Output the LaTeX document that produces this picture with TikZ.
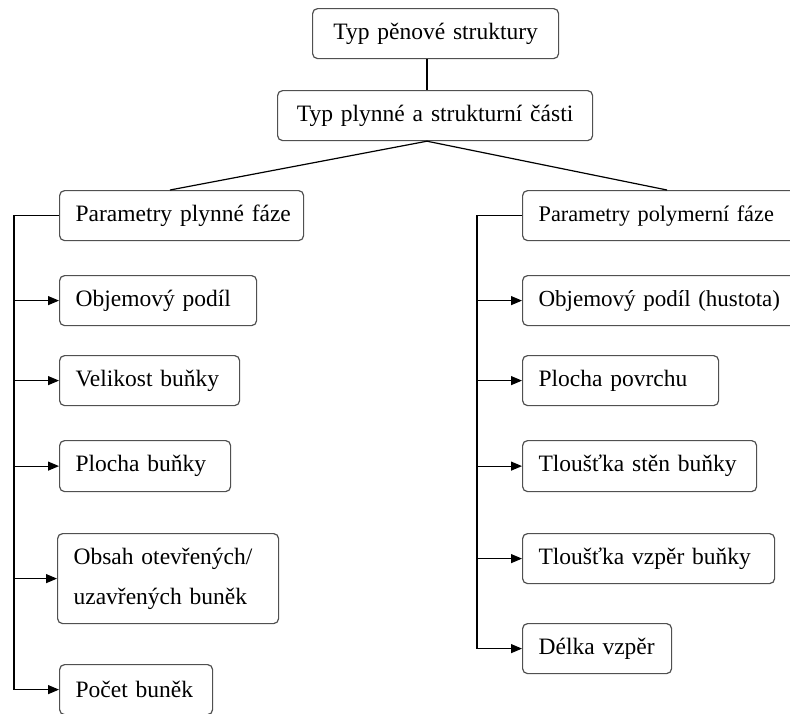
\documentclass[tikz,border=0pt]{standalone}
\usepackage{fontspec}
\setmainfont{Liberation Serif}
\usetikzlibrary{arrows.meta}
\definecolor{boxline}{HTML}{505050}
\newcommand{\onel}[1]{\mbox{#1}}
\begin{document}
\begin{tikzpicture}[x=1pt,y=-1pt,
  bx/.style={draw=boxline, rounded corners=5pt, line width=1.2pt, anchor=north west,
    inner xsep=16pt, inner ysep=0pt, align=left,
    font=\fontsize{23.5}{40}\selectfont},
  bxc/.style={bx, align=center},
  conn/.style={line width=1.2pt, black},
  arr/.style={conn, -{Triangle[length=11pt,width=9pt]}}]
\useasboundingbox (0,0) rectangle (790,713);
% top boxes
\node[bxc, text width=214pt, minimum height=50pt] (t1) at (312,8) {\onel{Typ pěnové struktury}};
\node[bxc, text width=283pt, minimum height=50pt] (t2) at (277,90) {\onel{Typ plynné a strukturní části}};
% left column
\node[bx, text width=212pt, minimum height=50pt] (L0) at (59,190) {\onel{Parametry plynné fáze}};
\node[bx, text width=165pt, minimum height=50pt] (L1) at (59,275) {\onel{Objemový podíl}};
\node[bx, text width=148pt, minimum height=50pt] (L2) at (59,355) {\onel{Velikost buňky}};
\node[bx, text width=139pt, minimum height=51pt] (L3) at (59,440) {\onel{Plocha buňky}};
\node[bx, text width=189pt, minimum height=90pt] (L4) at (57,533) {Obsah otevřených/\\uzavřených buněk};
\node[bx, text width=121pt, minimum height=50pt] (L5) at (59,664) {\onel{Počet buněk}};
% right column
\node[bx, text width=258pt, minimum height=50pt, font=\fontsize{22.3}{40}\selectfont] (R0) at (522,190) {\onel{Parametry polymerní fáze}};
\node[bx, text width=258pt, minimum height=50pt, font=\fontsize{23}{40}\selectfont] (R1) at (522,275) {\onel{Objemový podíl (hustota)}};
\node[bx, text width=164pt, minimum height=50pt] (R2) at (522,355) {\onel{Plocha povrchu}};
\node[bx, text width=202pt, minimum height=51pt] (R3) at (522,440) {\onel{Tloušťka stěn buňky}};
\node[bx, text width=220pt, minimum height=50pt] (R4) at (522,533) {\onel{Tloušťka vzpěr buňky}};
\node[bx, text width=117pt, minimum height=50pt] (R5) at (522,623) {\onel{Délka vzpěr}};
% helper coordinates
\coordinate (cx) at (427,0);
\coordinate (lt) at (170,0);
\coordinate (rt) at (667,0);
\coordinate (bl) at (14,0);
\coordinate (br) at (477,0);
% connectors
\draw[conn] (t1.south -| cx) -- (t2.north -| cx);
\draw[conn] (t2.south -| cx) -- (L0.north -| lt);
\draw[conn] (t2.south -| cx) -- (R0.north -| rt);
\draw[conn] (L0.west) -- (L0.west -| bl) -- (L5.west -| bl);
\foreach \n in {L1,L2,L3,L4,L5} \draw[arr] (\n.west -| bl) -- (\n.west);
\draw[conn] (R0.west) -- (R0.west -| br) -- (R5.west -| br);
\foreach \n in {R1,R2,R3,R4,R5} \draw[arr] (\n.west -| br) -- (\n.west);
\end{tikzpicture}
\end{document}
